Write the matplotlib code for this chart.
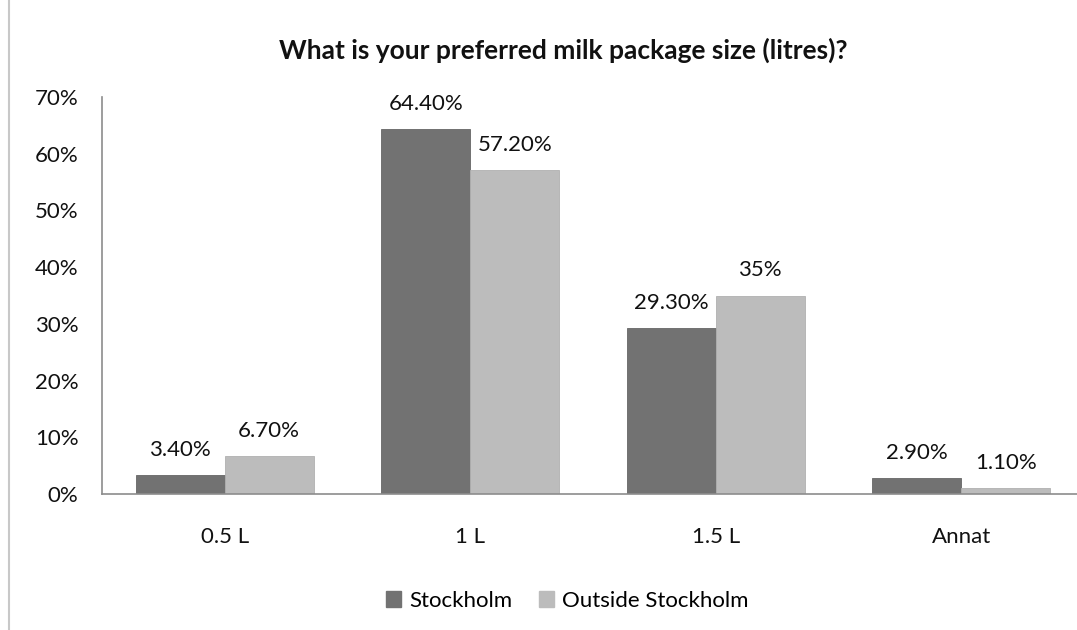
import matplotlib
matplotlib.use("Agg")
import matplotlib.pyplot as plt
from matplotlib.lines import Line2D
from matplotlib.patches import Patch
import numpy as np

categories = ["0.5 L", "1 L", "1.5 L", "Annat"]
stockholm = [3.4, 64.4, 29.3, 2.9]
outside = [6.7, 57.2, 35.0, 1.1]
stockholm_labels = ["3.40%", "64.40%", "29.30%", "2.90%"]
outside_labels = ["6.70%", "57.20%", "35%", "1.10%"]
series_names = ["Stockholm", "Outside Stockholm"]
y_ticks = [0, 10, 20, 30, 40, 50, 60, 70]

plt.rcParams['font.family'] = ['Lato', 'DejaVu Sans']

W, H = 1077, 630
fig = plt.figure(figsize=(W / 100, H / 100), dpi=100)
fig.patch.set_facecolor("white")

left, right, bottom, top = 102, 1077, 494, 97
ax = fig.add_axes([left / W, 1 - bottom / H, (right - left) / W, (bottom - top) / H])

dark = "#727272"
light = "#bcbcbc"
bw = 0.362
x = np.arange(len(categories))

b1 = ax.bar(x - bw / 2, stockholm, bw, color=dark, edgecolor="#666666", linewidth=0.6)
b2 = ax.bar(x + bw / 2, outside, bw, color=light, edgecolor="#b0b0b0", linewidth=0.6)

fs = 16
for bars, labels in ((b1, stockholm_labels), (b2, outside_labels)):
    for rect, lab in zip(bars, labels):
        ax.annotate(lab, (rect.get_x() + rect.get_width() / 2, rect.get_height()),
                    xytext=(0, 18), textcoords="offset points", ha="center", va="center",
                    fontsize=fs, color="#111111")

ax.set_xlim(-0.5, -0.5 + (right - left) / 245.5)
ax.set_ylim(0, 70)
ax.set_yticks(y_ticks)
ax.set_yticklabels([f"{t}%" for t in y_ticks], fontsize=fs, color="#111111")
ax.set_xticks(x)
ax.set_xticklabels(categories, fontsize=fs, color="#111111")
ax.tick_params(axis="y", length=0, pad=17)
ax.tick_params(axis="x", length=0, pad=24)

for s in ["top", "right"]:
    ax.spines[s].set_visible(False)
for s in ["left", "bottom"]:
    ax.spines[s].set_color("#8c8c8c")
    ax.spines[s].set_linewidth(1.2)

fig.text(563 / W, 1 - 50 / H, "What is your preferred milk package size (litres)?",
         ha="center", va="center", fontsize=19, fontweight="bold", color="#111111")

handles = [Patch(facecolor=dark, edgecolor=dark), Patch(facecolor=light, edgecolor=light)]
fig.legend(handles, series_names, loc="center", bbox_to_anchor=(567 / W, 1 - 601 / H),
           ncol=2, frameon=False, fontsize=fs, handlelength=0.7, handleheight=0.7,
           handletextpad=0.35, columnspacing=1.2)

fig.add_artist(Line2D([8.5 / W, 8.5 / W], [0, 1], transform=fig.transFigure,
                      color="#c8c8c8", linewidth=1.5))

fig.savefig("out.png", dpi=100)
